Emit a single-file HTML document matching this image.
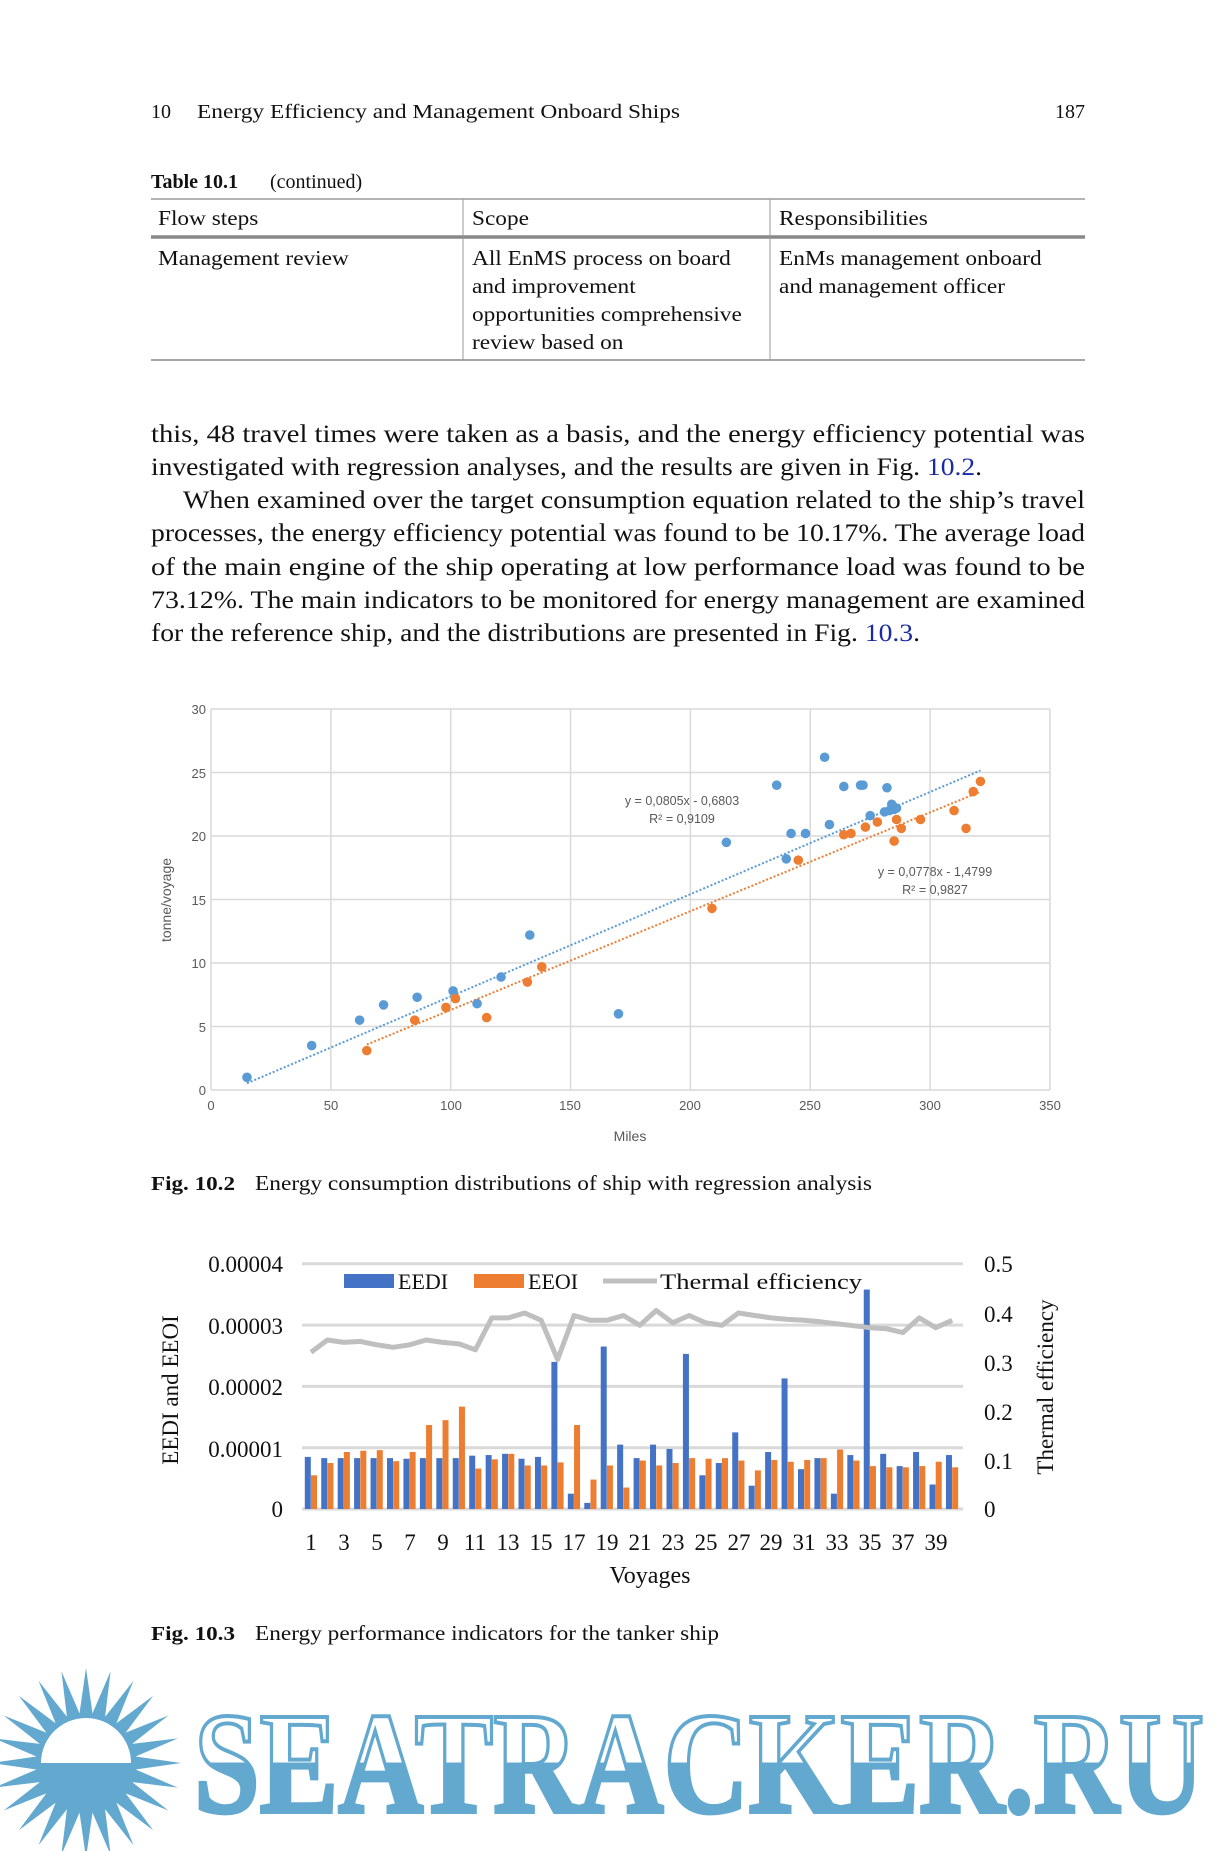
<!DOCTYPE html>
<html><head><meta charset="utf-8">
<style>
html,body{margin:0;padding:0;background:#fff;}
svg{display:block;}
.s{font-family:"Liberation Serif",serif;fill:#111;}
.g{font-family:"Liberation Sans",sans-serif;fill:#595959;}
</style></head>
<body>
<svg id="p" width="1221" height="1851" viewBox="0 0 1221 1851" xmlns="http://www.w3.org/2000/svg">
<rect width="1221" height="1851" fill="#fff"/>
<!-- header -->
<text class="s" x="151" y="118" font-size="20">10</text>
<text class="s" x="197" y="118" font-size="20" textLength="483" lengthAdjust="spacingAndGlyphs">Energy Efficiency and Management Onboard Ships</text>
<text class="s" x="1085" y="118" font-size="20" text-anchor="end">187</text>
<!-- table -->
<text class="s" x="151" y="188" font-size="20" font-weight="bold">Table 10.1</text>
<text class="s" x="270" y="188" font-size="20">(continued)</text>
<line x1="151" y1="199" x2="1085" y2="199" stroke="#888" stroke-width="1.3"/>
<line x1="151" y1="237" x2="1085" y2="237" stroke="#888" stroke-width="3.5"/>
<line x1="151" y1="360" x2="1085" y2="360" stroke="#888" stroke-width="1.5"/>
<line x1="463" y1="199" x2="463" y2="360" stroke="#999" stroke-width="1"/>
<line x1="770" y1="199" x2="770" y2="360" stroke="#999" stroke-width="1"/>
<g class="s" font-size="21" transform="translate(158,0) scale(1.11,1)">
<text x="0" y="225">Flow steps</text>
<text x="0" y="265">Management review</text>
</g>
<g class="s" font-size="21" transform="translate(472,0) scale(1.11,1)">
<text x="0" y="225">Scope</text>
<text x="0" y="265">All EnMS process on board</text>
<text x="0" y="293">and improvement</text>
<text x="0" y="321">opportunities comprehensive</text>
<text x="0" y="349">review based on</text>
</g>
<g class="s" font-size="21" transform="translate(779,0) scale(1.11,1)">
<text x="0" y="225">Responsibilities</text>
<text x="0" y="265">EnMs management onboard</text>
<text x="0" y="293">and management officer</text>
</g>
<!-- paragraph -->
<g class="s" font-size="25">
<text x="151" y="442" textLength="934" lengthAdjust="spacingAndGlyphs">this, 48 travel times were taken as a basis, and the energy efficiency potential was</text>
<text x="151" y="475" textLength="831" lengthAdjust="spacingAndGlyphs">investigated with regression analyses, and the results are given in Fig. <tspan fill="#1a2aa0">10.2</tspan>.</text>
<text x="183" y="508" textLength="902" lengthAdjust="spacingAndGlyphs">When examined over the target consumption equation related to the ship’s travel</text>
<text x="151" y="541" textLength="934" lengthAdjust="spacingAndGlyphs">processes, the energy efficiency potential was found to be 10.17%. The average load</text>
<text x="151" y="575" textLength="934" lengthAdjust="spacingAndGlyphs">of the main engine of the ship operating at low performance load was found to be</text>
<text x="151" y="608" textLength="934" lengthAdjust="spacingAndGlyphs">73.12%. The main indicators to be monitored for energy management are examined</text>
<text x="151" y="641" textLength="769" lengthAdjust="spacingAndGlyphs">for the reference ship, and the distributions are presented in Fig. <tspan fill="#1a2aa0">10.3</tspan>.</text>
</g>
<!-- scatter chart -->
<g id="sc"></g>
<g class="g" font-size="13" text-anchor="end">
<text x="206" y="714">30</text><text x="206" y="778">25</text><text x="206" y="841">20</text>
<text x="206" y="905">15</text><text x="206" y="968">10</text><text x="206" y="1032">5</text><text x="206" y="1095">0</text>
</g>
<g class="g" font-size="13" text-anchor="middle">
<text x="211" y="1110">0</text><text x="331" y="1110">50</text><text x="451" y="1110">100</text>
<text x="570" y="1110">150</text><text x="690" y="1110">200</text><text x="810" y="1110">250</text>
<text x="930" y="1110">300</text><text x="1050" y="1110">350</text>
<text x="630" y="1141" font-size="14">Miles</text>
</g>
<text class="g" font-size="14" text-anchor="middle" transform="translate(171,900) rotate(-90)">tonne/voyage</text>
<g class="g" font-size="12.5" text-anchor="middle" fill="#666">
<text x="682" y="805">y = 0,0805x - 0,6803</text>
<text x="682" y="823">R² = 0,9109</text>
<text x="935" y="876">y = 0,0778x - 1,4799</text>
<text x="935" y="894">R² = 0,9827</text>
</g>
<text class="s" x="151" y="1190" font-size="20" font-weight="bold" textLength="84" lengthAdjust="spacingAndGlyphs">Fig. 10.2</text>
<text class="s" x="255" y="1190" font-size="21" textLength="617" lengthAdjust="spacingAndGlyphs">Energy consumption distributions of ship with regression analysis</text>
<!-- bar chart -->
<g id="bc"></g>
<g class="s" font-size="23" text-anchor="end">
<text x="283" y="1272">0.00004</text><text x="283" y="1334">0.00003</text><text x="283" y="1395">0.00002</text>
<text x="283" y="1457">0.00001</text><text x="283" y="1517">0</text>
</g>
<g class="s" font-size="23">
<text x="984" y="1272">0.5</text><text x="984" y="1322">0.4</text><text x="984" y="1371">0.3</text>
<text x="984" y="1420">0.2</text><text x="984" y="1469">0.1</text><text x="984" y="1517">0</text>
</g>
<g class="s" font-size="23" text-anchor="middle">
<text x="311" y="1550">1</text><text x="344" y="1550">3</text><text x="377" y="1550">5</text><text x="410" y="1550">7</text>
<text x="443" y="1550">9</text><text x="475" y="1550">11</text><text x="508" y="1550">13</text><text x="541" y="1550">15</text>
<text x="574" y="1550">17</text><text x="607" y="1550">19</text><text x="640" y="1550">21</text><text x="673" y="1550">23</text>
<text x="706" y="1550">25</text><text x="739" y="1550">27</text><text x="771" y="1550">29</text><text x="804" y="1550">31</text>
<text x="837" y="1550">33</text><text x="870" y="1550">35</text><text x="903" y="1550">37</text><text x="936" y="1550">39</text>
<text x="650" y="1583" font-size="24">Voyages</text>
</g>
<text class="s" font-size="23" text-anchor="middle" transform="translate(178,1390) rotate(-90)">EEDI and EEOI</text>
<text class="s" font-size="23" text-anchor="middle" transform="translate(1053,1387) rotate(-90)">Thermal efficiency</text>
<rect x="344" y="1274" width="50" height="14" fill="#4472c4"/>
<text class="s" x="398" y="1289" font-size="22">EEDI</text>
<rect x="474" y="1274" width="50" height="14" fill="#ed7d31"/>
<text class="s" x="528" y="1289" font-size="22">EEOI</text>
<line x1="603" y1="1281" x2="657" y2="1281" stroke="#bfbfbf" stroke-width="5"/>
<text class="s" x="660" y="1289" font-size="22" textLength="202" lengthAdjust="spacingAndGlyphs">Thermal efficiency</text>
<text class="s" x="151" y="1640" font-size="20" font-weight="bold" textLength="84" lengthAdjust="spacingAndGlyphs">Fig. 10.3</text>
<text class="s" x="255" y="1640" font-size="21" textLength="464" lengthAdjust="spacingAndGlyphs">Energy performance indicators for the tanker ship</text>
<!-- watermark -->
<defs>
<linearGradient id="wg" x1="0" y1="1714" x2="0" y2="1812" gradientUnits="userSpaceOnUse">
<stop offset="0" stop-color="#fff"/><stop offset="0.49" stop-color="#fff"/>
<stop offset="0.5" stop-color="#63a9cf"/><stop offset="1" stop-color="#63a9cf"/>
</linearGradient>
</defs>
<g id="sun"></g>
<text x="194" y="1812" font-family="Liberation Serif,serif" font-weight="bold" font-size="145" textLength="1010" lengthAdjust="spacingAndGlyphs" fill="url(#wg)" stroke="#63a9cf" stroke-width="4">SEATRACKER.RU</text>
</svg>
<script>
var NS="http://www.w3.org/2000/svg";
function el(p,t,a){var e=document.createElementNS(NS,t);for(var k in a)e.setAttribute(k,a[k]);p.appendChild(e);return e;}
var sc=document.getElementById('sc');
function mx(x){return 211+x*2.397;} function my(y){return 1090-y*12.7;}
for(var i=0;i<=6;i++){el(sc,'line',{x1:211,x2:1050,y1:my(i*5),y2:my(i*5),stroke:'#d9d9d9','stroke-width':1.5});}
for(var i=0;i<=7;i++){el(sc,'line',{x1:mx(i*50),x2:mx(i*50),y1:my(30),y2:my(0),stroke:'#d9d9d9','stroke-width':1.5});}
el(sc,'line',{x1:mx(15),y1:my(0.0805*15-0.6803),x2:mx(321),y2:my(0.0805*321-0.6803),stroke:'#5b9bd5','stroke-width':2,'stroke-dasharray':'2 2'});
el(sc,'line',{x1:mx(65),y1:my(0.0778*65-1.4799),x2:mx(321),y2:my(0.0778*321-1.4799),stroke:'#ed7d31','stroke-width':2,'stroke-dasharray':'2 2'});
var B=[[15,1],[42,3.5],[62,5.5],[72,6.7],[86,7.3],[101,7.8],[111,6.8],[121,8.9],[133,12.2],[170,6],[215,19.5],[236,24],[240,18.2],[242,20.2],[248,20.2],[256,26.2],[258,20.9],[264,23.9],[271,24],[272,24],[275,21.6],[281,21.9],[282,23.8],[283,22],[284,22.5],[285,22.1],[286,22.2]];
var O=[[65,3.1],[85,5.5],[98,6.5],[102,7.2],[115,5.7],[132,8.5],[138,9.7],[209,14.3],[245,18.1],[264,20.1],[267,20.2],[273,20.7],[278,21.1],[285,19.6],[286,21.3],[288,20.6],[296,21.3],[310,22],[315,20.6],[318,23.5],[321,24.3]];
B.forEach(function(p){el(sc,'circle',{cx:mx(p[0]),cy:my(p[1]),r:4.8,fill:'#5b9bd5'});});
O.forEach(function(p){el(sc,'circle',{cx:mx(p[0]),cy:my(p[1]),r:4.8,fill:'#ed7d31'});});
var bc=document.getElementById('bc');
var y0=1509,u=61.3;
for(var i=0;i<=4;i++){el(bc,'line',{x1:302,x2:963,y1:y0-i*u,y2:y0-i*u,stroke:'#d9d9d9','stroke-width':3});}
var E=[0.85,0.83,0.83,0.83,0.83,0.83,0.82,0.83,0.83,0.83,0.87,0.88,0.9,0.82,0.85,2.4,0.25,0.1,2.65,1.05,0.83,1.05,0.98,2.53,0.55,0.75,1.25,0.38,0.93,2.13,0.65,0.83,0.25,0.88,3.58,0.9,0.7,0.93,0.4,0.88];
var F=[0.55,0.75,0.93,0.95,0.96,0.78,0.93,1.37,1.45,1.67,0.66,0.81,0.9,0.71,0.71,0.76,1.37,0.48,0.71,0.35,0.79,0.71,0.75,0.83,0.82,0.83,0.79,0.63,0.8,0.77,0.8,0.83,0.97,0.79,0.7,0.68,0.68,0.7,0.77,0.68];
var T=[0.32,0.345,0.34,0.342,0.335,0.33,0.335,0.345,0.34,0.337,0.325,0.39,0.39,0.4,0.385,0.305,0.395,0.385,0.385,0.395,0.375,0.405,0.38,0.395,0.38,0.375,0.4,0.395,0.39,0.387,0.385,0.382,0.378,0.374,0.37,0.368,0.36,0.39,0.37,0.385];
var w=16.44,cx0=311,pts=[];
for(var i=0;i<40;i++){var c=cx0+i*w;
el(bc,'rect',{x:c-6.2,y:y0-E[i]*u,width:6,height:E[i]*u,fill:'#4472c4'});
el(bc,'rect',{x:c,y:y0-F[i]*u,width:6,height:F[i]*u,fill:'#ed7d31'});
pts.push(c.toFixed(1)+','+(y0-T[i]/0.5*245).toFixed(1));}
el(bc,'polyline',{points:pts.join(' '),fill:'none',stroke:'#bfbfbf','stroke-width':5,'stroke-linejoin':'round'});
var sun=document.getElementById('sun'),cx=86,cy=1763,s=[];
for(var i=0;i<48;i++){var a=i*Math.PI/24,r=(i%2==0)?95:50;s.push((cx+r*Math.cos(a)).toFixed(1)+','+(cy+r*Math.sin(a)).toFixed(1));}
el(sun,'polygon',{points:s.join(' '),fill:'#63a9cf'});
el(sun,'path',{d:'M'+(cx-45)+','+cy+' A45,45 0 0 1 '+(cx+45)+','+cy+' Z',fill:'#fff'});
</script>
</body></html>
